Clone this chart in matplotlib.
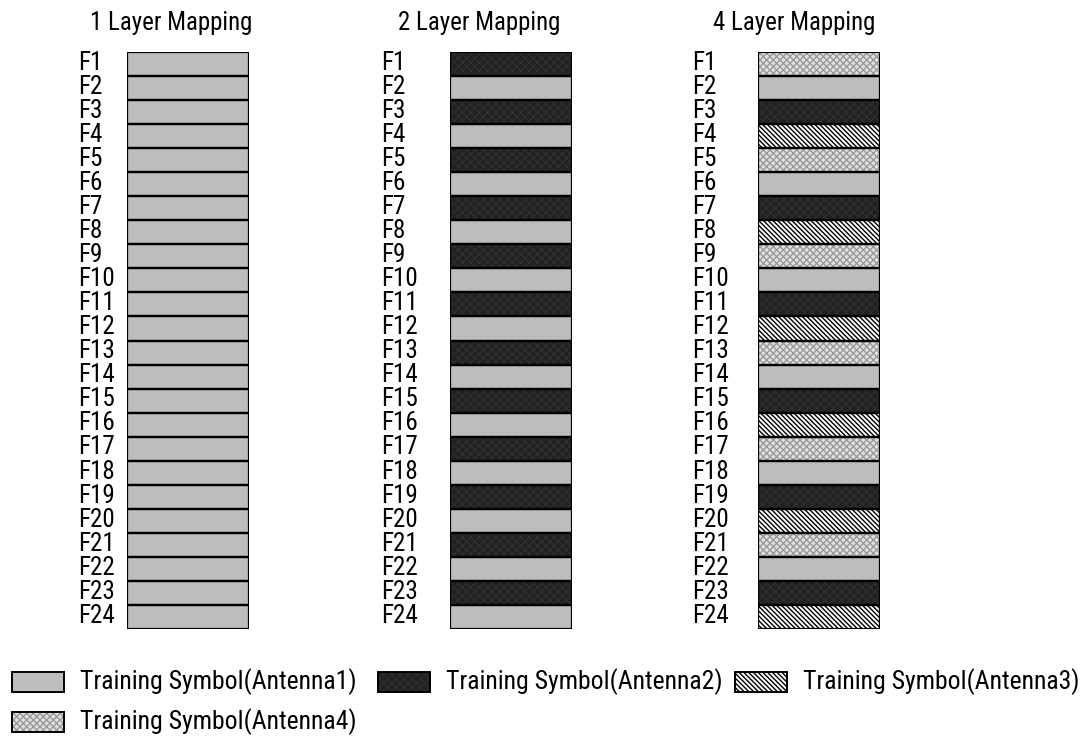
import matplotlib
matplotlib.use('Agg')
import matplotlib.pyplot as plt
from matplotlib import font_manager
from matplotlib.patches import Rectangle
import numpy as np

# frame labels and which antenna sends the training symbol in each frame
frames = ['F1', 'F2', 'F3', 'F4', 'F5', 'F6', 'F7', 'F8', 'F9', 'F10', 'F11', 'F12',
          'F13', 'F14', 'F15', 'F16', 'F17', 'F18', 'F19', 'F20', 'F21', 'F22', 'F23', 'F24']
layer1 = [1, 1, 1, 1, 1, 1, 1, 1, 1, 1, 1, 1, 1, 1, 1, 1, 1, 1, 1, 1, 1, 1, 1, 1]
layer2 = [2, 1, 2, 1, 2, 1, 2, 1, 2, 1, 2, 1, 2, 1, 2, 1, 2, 1, 2, 1, 2, 1, 2, 1]
layer4 = [4, 1, 2, 3, 4, 1, 2, 3, 4, 1, 2, 3, 4, 1, 2, 3, 4, 1, 2, 3, 4, 1, 2, 3]
titles = ['1 Layer Mapping', '2 Layer Mapping', '4 Layer Mapping']
antennas = [1, 2, 3, 4]
legend_labels = ['Training Symbol(Antenna1)', 'Training Symbol(Antenna2)',
                 'Training Symbol(Antenna3)', 'Training Symbol(Antenna4)']

# fill style per antenna: face colour, hatch, hatch colour
styles = {
    1: ('#bdbdbd', '', '#bdbdbd'),
    2: ('#202020', 'xxxx', '#2e2e2e'),
    3: ('white', '\\' * 7, 'black'),
    4: ('#e0e0e0', 'xxxxx', '#9a9a9a'),
}

# the reference uses a narrow Arial; take a narrow face if one is installed
names = set(f.name for f in font_manager.fontManager.ttflist)
FONT = ['Liberation Sans']
for cand in ['Liberation Sans Narrow', 'Arial Narrow', 'Roboto Condensed',
             'Open Sans Condensed', 'DejaVu Sans Condensed']:
    if cand in names:
        FONT = [cand]
        break
FONT = FONT + ['DejaVu Sans']
plt.rcParams['hatch.linewidth'] = 1.0

W, H = 1087, 746
fig = plt.figure(figsize=(W / 100, H / 100), dpi=100)
renderer = fig.canvas.get_renderer()


def fit(t, target_w, max_size):
    # scale a text so its width matches the reference, capped by height
    w = t.get_window_extent(renderer).width
    t.set_fontsize(min(t.get_fontsize() * target_w / w, max_size))


# pixel layout of the three columns
box_left = [127, 450, 758]
label_left = [78, 381, 692]
title_x = [171, 479, 794]
box_top, box_bot, box_w = 52, 629, 122

for col, data in enumerate([layer1, layer2, layer4]):
    ax = fig.add_axes([box_left[col] / W, 1 - box_bot / H, box_w / W, (box_bot - box_top) / H])
    y = np.arange(len(frames))
    data = np.array(data)
    for a in antennas:
        sel = y[data == a]
        if len(sel) == 0:
            continue
        face, hatch, hc = styles[a]
        ax.barh(sel, 1, height=1, left=0, color=face, hatch=hatch, edgecolor=hc, linewidth=0)
    ax.barh(y, 1, height=1, left=0, fill=False, edgecolor='black', linewidth=1.6)
    ax.set_xlim(0, 1)
    ax.set_ylim(len(frames) - 0.5, -0.5)
    ax.axis('off')
    trans = matplotlib.transforms.blended_transform_factory(fig.transFigure, ax.transData)
    for i, f in enumerate(frames):
        t = ax.text(label_left[col] / W, i - 0.05, f, transform=trans,
                    ha='left', va='center', fontsize=15, family=FONT)
        if f == 'F10':
            fit(t, 37, 20)
            label_size = t.get_fontsize()
    for t in ax.texts:
        t.set_fontsize(label_size)
    t = fig.text(title_x[col] / W, 1 - 23 / H, titles[col], ha='center', va='center',
                 fontsize=16, family=FONT)
    fit(t, 163, 19)

# legend drawn by hand so it keeps the reference spacing
lax = fig.add_axes([0, 0, 1, 1])
lax.set_xlim(0, W)
lax.set_ylim(H, 0)
lax.axis('off')
leg_pos = [(12, 682), (378, 682), (735, 682), (12, 722)]
for a, lab, (lx, ly) in zip(antennas, legend_labels, leg_pos):
    face, hatch, hc = styles[a]
    lax.add_patch(Rectangle((lx, ly - 10), 52, 20, facecolor=face, hatch=hatch, edgecolor=hc, linewidth=0))
    lax.add_patch(Rectangle((lx, ly - 10), 52, 20, fill=False, edgecolor='black', linewidth=1.4))
    t = lax.text(lx + 68, ly, lab, ha='left', va='center', fontsize=16, family=FONT)
    fit(t, 278, 20)

fig.savefig('out.png', dpi=100)
